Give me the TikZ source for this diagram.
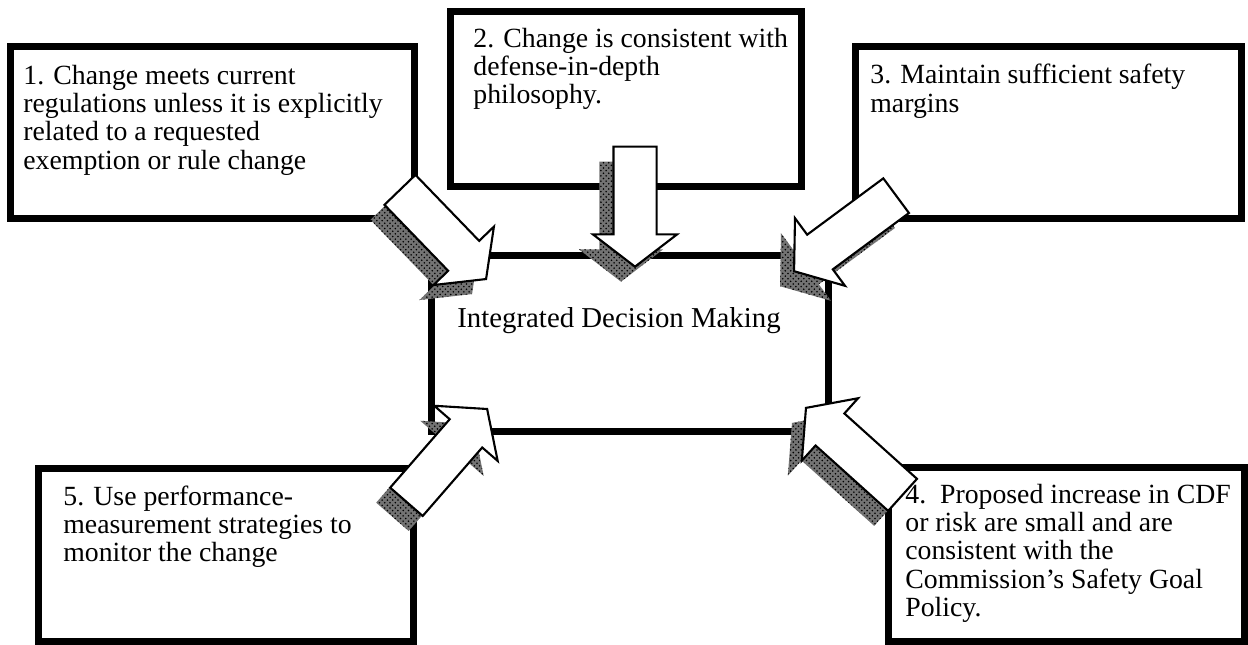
\documentclass[tikz,border=0pt]{standalone}
\usepackage{fontspec}
\setmainfont{Liberation Serif}
\usetikzlibrary{shapes.arrows, patterns, calc, positioning}

\tikzset{
	goal/.style = {rectangle, draw = black, line width = 0.14cm, fill = white, inner sep = 0pt},
	goaltext/.style = {anchor = base west, align = left, inner sep = 0pt, font = {\fontsize{15.8pt}{16.2pt}\selectfont}},
	push/.style = {single arrow, draw = black, line width = 1.2pt, fill = white, inner xsep = 0pt, inner ysep = 0.41cm, single arrow head extend = 0.41cm, single arrow tip angle = 105, minimum height = 2.48cm, anchor = tip},
	pushshade/.style = {push, draw = none, fill = black!55, postaction = {pattern = crosshatch dots}}
}

\begin{document}
\begin{tikzpicture}[x = 0.02cm, y = -0.02cm]
	\useasboundingbox (0,0) rectangle (1248,645);
	
	%%%%%%%% boxes %%%%%%%%
	\node (decide) [goal, minimum width = 7.94cm, minimum height = 3.52cm] at (630,343.5) {};
	\node (rules) [goal, minimum width = 8.08cm, minimum height = 3.44cm] at (212.5,132.5) {};
	\node (depth) [goal, minimum width = 7.02cm, minimum height = 3.50cm] at (626,99) {};
	\node (margin) [goal, minimum width = 7.72cm, minimum height = 3.44cm] at (1048.5,132.5) {};
	\node (risk) [goal, minimum width = 7.12cm, minimum height = 3.48cm] at (1066.5,554.5) {};
	\node (monitor) [goal, minimum width = 7.50cm, minimum height = 3.46cm] at (226,555) {};
	
	% texts (anchored at the baseline of the last line)
	\node (decidetext) [goaltext, font = {\fontsize{16.4pt}{16.4pt}\selectfont}, xshift = 0.58cm, yshift = -1.5cm] at (decide.north west) {Integrated Decision Making};
	\node (rulestext) [goaltext, xshift = 0.32cm, yshift = -2.528cm] at (rules.north west) {1. Change meets current\\regulations unless it is explicitly\\related to a requested\\exemption or rule change};
	\node (depthtext) [goaltext, xshift = 0.52cm, yshift = -1.919cm] at (depth.north west) {2. Change is consistent with\\defense-in-depth\\philosophy.};
	\node (margintext) [goaltext, xshift = 0.36cm, yshift = -1.389cm] at (margin.north west) {3. Maintain sufficient safety\\margins};
	\node (risktext) [goaltext, xshift = 0.4cm, yshift = -3.058cm] at (risk.north west) {4.\ \ Proposed increase in CDF\\or risk are small and are\\consistent with the\\Commission’s Safety Goal\\Policy.};
	\node (monitortext) [goaltext, xshift = 0.56cm, yshift = -1.939cm] at (monitor.north west) {5. Use performance-\\measurement strategies to\\monitor the change};
	
	%%%%%%%% block arrows %%%%%%%%
	\coordinate (tip1) at (487,280);
	\coordinate (tip2) at (635,268);
	\coordinate (tip3) at (793,272);
	\coordinate (tip4) at (805,407);
	\coordinate (tip5) at (488,408);
	
	% shades
	\node (shade1) [pushshade, rotate = -46] at ($(tip1)+(-14,15)$) {};
	\node (shade2) [pushshade, rotate = -90, minimum height = 2.4cm] at ($(tip2)+(-14,15)$) {};
	\node (shade3) [pushshade, rotate = -143.5, minimum height = 2.54cm] at ($(tip3)+(-14,15)$) {};
	\node (shade4) [pushshade, rotate = 138, minimum height = 2.6cm] at ($(tip4)+(-14,15)$) {};
	\node (shade5) [pushshade, rotate = 49, minimum height = 2.46cm] at ($(tip5)+(-14,15)$) {};
	
	% arrows
	\node (push1) [push, rotate = -46] at (tip1) {};
	\node (push2) [push, rotate = -90, minimum height = 2.4cm] at (tip2) {};
	\node (push3) [push, rotate = -143.5, minimum height = 2.54cm] at (tip3) {};
	\node (push4) [push, rotate = 138, minimum height = 2.6cm] at (tip4) {};
	\node (push5) [push, rotate = 49, minimum height = 2.46cm] at (tip5) {};
	
\end{tikzpicture}
\end{document}
